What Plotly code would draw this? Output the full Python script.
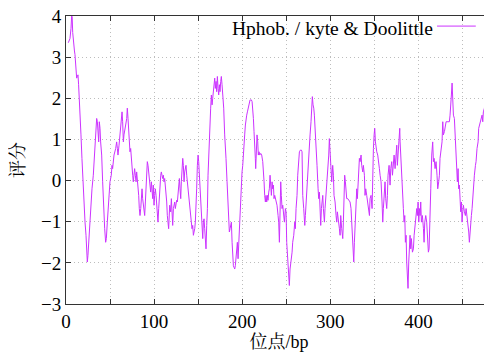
import plotly.graph_objects as go

# residue position (bp) and Kyte & Doolittle hydrophobicity score
position = [
    2.6, 4.5, 5.7, 6.4, 7.0, 7.6, 8.3, 9.0, 9.6, 10.2, 11.4, 12.1, 12.9, 13.6, 14.3, 15.9, 17.0, 18.1, 19.3, 20.4,
    21.6, 22.7, 23.5, 24.2, 24.9, 25.7, 26.4, 27.9, 29.5, 31.0, 32.5, 34.1, 34.8, 35.6, 36.3, 37.1, 37.8, 38.6, 39.3, 40.5,
    41.6, 42.7, 43.9, 45.0, 45.8, 46.9, 48.4, 49.9, 51.4, 52.2, 52.9, 54.5,
    56.4, 57.5, 58.3, 59.0, 60.2, 61.3, 62.0, 62.8, 63.6, 64.3, 65.1, 65.8, 66.6, 67.7, 68.9, 69.6, 70.4, 71.1, 71.9, 72.6,
    73.4, 74.2, 74.9, 75.7, 76.4, 77.2, 77.9, 78.7, 79.5, 80.2, 81.0, 81.7, 82.5, 83.2, 84.0, 84.8, 85.5, 86.3, 87.0, 87.8,
    88.5, 89.3, 90.1, 90.8, 91.6, 92.3, 93.1, 93.8, 94.6, 95.3, 96.1, 96.9, 97.6, 98.4, 99.1, 99.9, 100.6, 101.4, 102.2, 102.9,
    103.7, 104.4, 105.2, 105.9, 106.7, 107.5, 108.2, 109.0, 109.7, 110.5, 111.2, 112.0, 112.8, 113.5, 114.3, 115.0, 115.8, 116.5,
    117.7, 118.8, 119.6, 120.3, 121.1, 121.9, 122.6, 123.4, 124.1, 124.9, 125.6, 126.4, 127.2, 127.9, 128.7, 129.4, 130.2, 130.9,
    131.7, 132.5, 133.2, 134.0, 134.7, 135.5, 136.2, 137.0, 137.7, 138.5, 139.3, 140.0, 140.8, 141.5, 142.3, 143.0, 143.8, 144.6,
    145.3, 146.1, 146.8, 147.6, 148.3, 149.1, 149.9, 150.6, 151.4, 152.1, 152.9, 153.6, 154.4, 155.2, 155.9, 156.7, 157.4, 158.2,
    158.9, 159.7, 160.5, 161.2, 162.0, 162.7, 163.5, 164.2, 165.0, 165.8, 166.5, 167.3, 168.0, 168.8, 169.5, 170.3, 171.0, 171.8,
    172.6, 173.3, 174.1, 174.8, 175.6, 176.3, 177.1,
    178.2, 179.0, 180.1, 180.9, 181.6, 182.8, 183.9, 184.7, 185.4, 186.2, 186.9, 187.7, 188.5, 189.2, 190.0, 190.7, 191.5, 192.2,
    193.0, 193.7, 194.5, 195.3, 196.0, 196.8, 197.5, 198.3, 199.0, 199.8, 200.6, 201.3, 202.1, 202.8, 203.6, 204.3, 205.1, 205.9,
    206.6, 207.4, 208.1, 208.9, 209.6, 210.4, 211.2, 211.9, 212.7, 213.4, 214.2, 214.9, 215.3, 216.1, 216.8, 217.6, 218.3, 219.1,
    219.9, 221.0, 222.1, 223.3, 224.0, 224.8, 225.5, 226.3, 227.0, 227.8, 228.6, 229.3, 230.1, 230.8, 231.6, 232.3, 233.1, 233.9,
    234.6, 235.4, 236.1, 236.9, 237.6, 238.4,
    239.5, 240.7, 241.4, 242.2, 242.9, 243.7, 244.4, 245.2, 246.0, 246.7, 247.9, 249.0, 249.8, 250.5, 251.6, 252.8, 253.5, 254.3,
    255.4, 256.6, 257.3, 258.5, 259.6, 260.3, 261.1, 262.2, 263.0, 263.8, 264.9, 266.0, 267.2, 267.9, 268.7, 269.8, 271.0, 271.7,
    272.5, 273.6, 274.7, 275.9, 277.0, 278.1, 278.9, 279.6, 280.4, 281.2, 281.9, 283.1, 283.8, 284.9, 286.1, 286.8, 287.6, 288.4,
    289.1, 289.9, 290.6, 291.4, 292.1, 293.3, 294.0, 295.2, 296.3, 297.4, 298.2, 298.9, 299.7,
    300.8, 301.6, 302.7, 303.5, 304.2, 305.4, 306.5, 307.3, 308.0, 309.2, 310.3, 311.1, 311.8, 312.9, 314.1, 314.8, 315.6, 316.3,
    317.1, 317.9, 318.6, 319.8, 320.9, 322.4, 323.5, 324.3, 325.1, 325.8, 326.6, 327.3, 328.1, 329.2, 330.0, 330.7, 331.5, 332.2,
    333.0, 333.8, 334.9, 335.6, 336.8, 337.5, 338.7, 339.4, 340.2, 341.3, 342.5, 343.2, 344.4, 345.1, 346.2, 347.4, 348.1, 348.9,
    349.7, 350.4, 351.2, 351.9, 352.7, 353.8, 354.6, 355.7, 356.5, 357.6, 358.7, 359.5, 360.2,
    362.1, 362.9, 364.0, 364.8, 365.5, 366.7, 367.8, 368.6, 369.7, 370.5, 371.6, 372.4, 373.5, 374.2, 375.4, 376.1, 377.3, 378.0,
    378.8, 379.2, 379.9, 381.1, 382.2, 382.9, 383.7, 384.5, 385.2, 386.0, 386.7, 387.5, 388.2, 389.0, 389.8, 390.5, 391.3, 392.0,
    393.2, 394.3, 395.1, 396.2, 396.9, 398.1, 398.8, 399.6, 400.4, 401.1, 401.9, 402.6, 403.4, 404.5, 405.7, 406.4, 407.2, 408.3,
    409.4, 410.2, 411.3, 412.1, 412.8, 414.0, 415.1, 416.2, 417.0, 417.8, 418.9, 420.0,
    421.1, 421.9, 423.0, 423.8, 424.5, 425.7, 426.8, 427.6, 428.3, 429.5, 430.6, 431.4, 432.5, 433.6, 435.1, 435.9, 436.7, 437.4,
    438.2, 438.9, 439.7, 440.8, 441.6, 442.7, 443.5, 444.2, 445.0, 445.7, 446.5, 447.2, 448.0, 448.8, 449.5, 450.3, 451.0, 452.2,
    453.3, 454.1, 455.2, 456.3, 457.1, 457.8, 458.6, 459.4, 460.1, 460.9, 461.6, 462.4, 463.5, 464.7, 465.4, 466.5, 467.7, 468.4,
    469.2, 470.3, 471.1, 472.2, 473.0, 473.7, 474.9, 475.6, 476.4, 476.8, 477.5, 478.7, 479.8, 480.5, 482.4,
]

score = [
    3.35, 3.45, 3.70, 4.00, 3.98, 3.60, 3.38, 3.38, 3.15, 3.06, 2.57, 2.49, 2.53, 2.57, 2.33, 1.76, 1.11, 0.54, -0.11, -0.68,
    -1.01, -1.33, -1.66, -1.98, -1.82, -1.50, -1.17, -0.68, -0.20, 0.13, 0.62, 1.27, 1.51, 1.43, 1.27, 0.94, 1.43, 1.27, 0.94, 0.62,
    -0.03, -0.68, -1.17, -1.50, -1.41, -1.01, -0.36, -0.03, 0.13, 0.37, 0.29, 0.62,
    0.78, 0.94, 0.78, 0.62, 0.86, 1.11, 1.27, 1.51, 1.67, 1.43, 0.94, 1.11, 1.19, 1.35, 1.51, 1.76, 1.51, 1.11, 0.78, 0.70,
    0.78, 0.46, 0.29, 0.13, -0.03, 0.13, 0.29, 0.13, -0.03, 0.21, 0.05, -0.20, -0.36, -0.68, -0.85, -0.68, -0.36, -0.20, -0.44, -0.60,
    -0.68, -0.85, -0.52, -0.20, 0.29, 0.46, 0.37, 0.21, 0.13, -0.11, -0.28, -0.03, -0.20, -0.44, -0.11, -0.60, -0.36, -0.20, -0.36, -0.52,
    -0.76, -1.01, -0.68, -0.36, -0.03, 0.13, 0.21, 0.13, 0.05, 0.13, -0.03, 0.05, -0.11, -0.20, -0.52, -0.85, -1.09, -1.17,
    -0.60, -0.76, -0.44, -0.68, -1.09, -0.68, -0.60, -0.52, -0.68, -0.60, -0.48, -0.52, -0.36, -0.20, 0.05, -0.20, -0.44, -0.03,
    0.29, 0.54, 0.37, -0.03, 0.21, 0.29, 0.37, 0.13, -0.03, -0.11, -0.36, -0.44, -0.60, -0.85, -1.01, -1.17, -1.09, -1.33,
    -1.25, -1.17, -1.01, -0.68, -0.20, 0.37, 0.62, 0.46, 0.13, -0.20, -0.52, -0.85, -1.17, -1.41, -1.01, -0.93, -1.17, -1.50,
    -1.66, -1.09, -0.68, 0.13, 0.70, 1.11, 1.43, 1.76, 2.08, 1.84, 2.00, 2.24, 2.33, 2.49, 2.24, 2.41, 2.16, 2.53,
    2.24, 2.08, 2.33, 2.16, 2.41, 2.53, 2.33,
    2.08, 1.76, 1.11, 0.86, 0.54, -0.03, -0.52, -0.85, -1.25, -1.17, -1.09, -1.01, -1.50, -1.90, -2.07, -2.11, -2.15, -2.07,
    -1.82, -1.66, -1.50, -1.90, -1.50, -1.09, -0.85, -0.60, -0.03, 0.21, 0.37, 0.70, 0.86, 1.11, 1.35, 1.51, 1.59, 1.67,
    1.76, 1.84, 1.90, 1.96, 1.96, 1.96, 1.92, 1.76, 1.51, 1.19, 0.94, 0.54, 0.29, 0.78, 1.11, 0.94, 0.62, 0.70,
    0.62, 0.66, 0.62, 0.46, 0.29, -0.03, -0.36, -0.52, -0.36, -0.52, -0.36, -0.48, -0.28, -0.20, 0.13, -0.03, -0.36, -0.03,
    -0.20, -0.11, -0.44, -0.36, -0.44, -0.52,
    -0.60, -0.85, -1.01, -1.50, -0.52, -0.03, -0.36, -0.68, -0.60, -0.85, -1.01, -0.68, -0.76, -1.50, -1.82, -2.15, -2.55, -2.15,
    -1.98, -1.74, -1.50, -1.33, -1.01, -1.17, -0.68, -0.36, 0.13, 0.46, 0.70, 0.74, 0.74, 0.70, -0.36, -0.68, -1.09, -0.85,
    -0.52, -0.20, 0.46, 0.78, 1.11, 1.43, 1.92, 2.04, 1.84, 1.76, 1.59, 1.19, 0.78, 0.37, -0.20, -0.44, -0.28, -0.85,
    -1.09, -0.68, -0.52, -0.36, -0.68, -1.01, -0.68, -0.36, -0.03, 0.29, 0.62, 1.02, 0.62,
    0.29, -0.03, 0.37, 0.13, -0.36, -0.52, -0.85, -1.01, -0.76, -1.09, -1.17, -1.33, -0.85, -1.17, -1.41, -1.01, -0.36, 0.13,
    -0.03, -0.20, -0.44, -0.44, -0.48, -0.52, -0.68, -1.01, -1.33, -1.82, -1.98, -1.50, -1.01, -0.68, -0.20, -0.44, -0.03, 0.29,
    0.54, 0.46, 0.62, 0.37, 0.21, 0.37, 0.13, -0.36, -0.20, -0.36, -0.52, -0.68, -0.85, -0.44, -0.36, -0.68, 0.29, 0.78,
    1.11, 1.27, 0.94, 0.78, 0.70, 0.62, 0.37, 0.29, 0.13, -0.03, -0.52, -1.01, -0.68,
    -0.03, -0.44, -0.68, -0.36, 0.13, 0.37, -0.11, 0.29, 0.46, 0.13, 0.46, 0.62, 0.29, 0.62, 0.86, 0.37, 0.78, 1.11,
    1.27, 0.94, 0.54, 0.13, -0.36, -0.68, -1.01, -0.85, -1.50, -1.33, -1.98, -2.31, -2.62, -1.98, -1.50, -1.33, -1.66, -1.41,
    -1.74, -1.66, -1.33, -1.01, -0.85, -0.68, -0.85, -0.52, -1.01, -0.68, -0.85, -0.52, -1.01, -0.85, -1.17, -1.50, -1.01, -0.85,
    -1.01, -1.50, -1.74, -1.66, -0.85, -0.20, 0.62, 0.94, 0.46, 0.54, 0.29, 0.46,
    0.13, -0.20, -0.03, 0.13, 0.54, 0.70, 0.94, 1.43, 1.11, 1.19, 1.35, 1.43, 1.43, 1.43, 1.43, 1.59, 1.76, 2.08,
    2.37, 2.00, 1.59, 1.51, 1.11, 0.70, 0.37, -0.03, 0.29, -0.20, -0.11, -0.36, -0.76, -0.52, -1.01, -0.76, -0.60, -0.76,
    -0.85, -0.68, -0.85, -1.01, -1.25, -1.50, -1.17, -1.01, -0.85, -0.68, -0.36, -0.11, 0.13, 0.37, 0.46, 0.78, 0.94, 1.27,
    1.35, 1.43, 1.51, 1.59, 1.43, 1.67, 1.76, 1.92, 1.59, 1.11, 1.35, 1.27, 1.02, 0.94, 0.94,
]

x_tick_values = [0, 50, 100, 150, 200, 250, 300, 350, 400, 450]
x_tick_labels = ["0", "", "100", "", "200", "", "300", "", "400", ""]
y_tick_values = [-3, -2, -1, 0, 1, 2, 3, 4]

series_name = "Hphob. / kyte & Doolittle"
line_color = "#CC33FF"
serif = "Liberation Serif"
cjk = "Liberation Serif, Noto Serif CJK SC, Noto Sans CJK SC"

fig = go.Figure()
fig.add_trace(go.Scatter(
    x=position, y=score, mode="lines", name=series_name,
    line=dict(color=line_color, width=1), showlegend=False,
))

axis_common = dict(
    showline=True, linecolor="#333333", linewidth=1, mirror="ticks",
    ticks="inside", ticklen=5, tickcolor="#333333", tickwidth=1,
    showgrid=True, gridcolor="#bdbdbd", griddash="1px,3px", gridwidth=1,
    zeroline=False, automargin=False, ticklabeloverflow="allow",
    tickfont=dict(family=serif, size=19, color="black"),
)

# the page body adds an 8 px offset on the left and top, so the figure is sized to fit the 492x353 window
fig.update_layout(
    width=484, height=345,
    margin=dict(l=58, r=0, t=8, b=49),
    paper_bgcolor="white", plot_bgcolor="white",
    font=dict(family=serif, color="black"),
    xaxis=dict(range=[0, 483.5], tickmode="array", tickvals=x_tick_values, ticktext=x_tick_labels,
               title=dict(text="位点/bp", font=dict(family=cjk, size=18, color="black"), standoff=3),
               **axis_common),
    yaxis=dict(range=[-3, 4], tickmode="array", tickvals=y_tick_values,
               title=dict(text="评分", font=dict(family=cjk, size=18, color="black"), standoff=15),
               **axis_common),
)

# gnuplot-style key: label on the left, line sample on the right
fig.add_annotation(xref="paper", yref="paper", x=0.867, y=0.955, xanchor="right", yanchor="middle",
                   text=series_name, showarrow=False, font=dict(family=serif, size=19.5, color="black"))
fig.add_shape(type="line", xref="paper", yref="paper", x0=0.871, x1=0.962, y0=0.965, y1=0.965,
              line=dict(color=line_color, width=1))

fig.write_html("out.html")
